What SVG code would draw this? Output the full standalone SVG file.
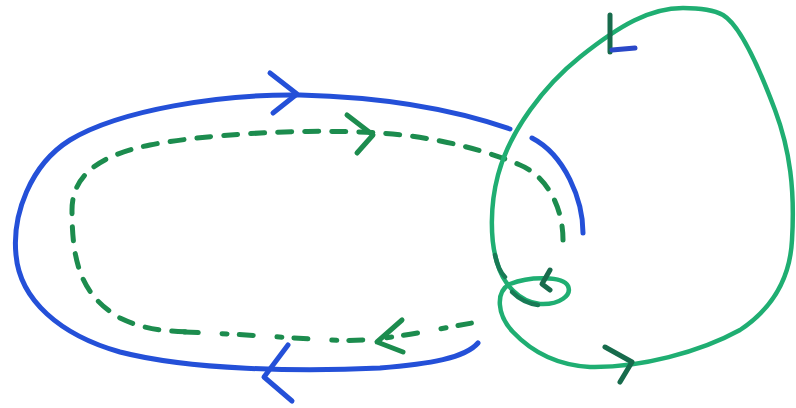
<svg xmlns="http://www.w3.org/2000/svg" width="796" height="408" viewBox="0 0 796 408">
<style>
.blue{fill:none;stroke:#2450d8;stroke-width:5;stroke-linecap:round;stroke-linejoin:round}
.gsolid{fill:none;stroke:#1fae72;stroke-width:4.5;stroke-linecap:round;stroke-linejoin:round}
.gdash{fill:none;stroke:#1c8c4e;stroke-width:5;stroke-linecap:round;stroke-dasharray:14 13}
.gdash2{fill:none;stroke:#1c8c4e;stroke-width:5;stroke-linecap:round;stroke-dasharray:14 24 5 12}
.garrow{fill:none;stroke:#1c8c4e;stroke-width:5;stroke-linecap:round;stroke-linejoin:round}
.darrow{fill:none;stroke:#176b4c;stroke-width:5;stroke-linecap:round;stroke-linejoin:round}
.dark{fill:none;stroke:#187a55;stroke-width:4.5;stroke-linecap:round}
</style>
<rect width="796" height="408" fill="#ffffff"/>
<g id="blue-loop">
<path class="blue" d="M583,233 C583,200 565,155 532,138"/>
<path class="blue" d="M510,129 C450,108 380,97 300,95 C220,94 120,110 70,140 C30,165 12,215 16,255 C20,300 60,335 120,352 C190,370 300,372 380,368 C430,364 465,358 478,343"/>
<polyline class="blue" points="270,73 297,94 273,113"/>
<polyline class="blue" points="288,345 264,377 292,401"/>
</g>
<g id="green-dashed-loop">
<path class="gdash" d="M563,240 C563,205 545,175 520,165 C490,152 440,137 380,133 C300,128 200,135 150,145 C100,155 72,175 72,210 C72,260 80,295 120,318 C145,330 165,331 190,332"/>
<path class="gdash2" d="M184,332 C240,334 290,338 330,340 C380,343 430,330 472,323"/>
<polyline class="garrow" points="347,115 373,135 357,153"/>
<polyline class="garrow" points="402,320 377,342 403,352"/>
</g>
<g id="green-solid-loop">
<path class="gsolid" d="M683,8 C650,8 620,25 580,57 C545,85 510,130 498,175 C490,205 490,240 497,262 C503,285 520,302 540,304 C560,305 572,295 568,286 C563,276 530,276 510,284 C495,292 497,315 513,332 C530,350 555,365 590,367 C640,368 700,352 740,330 C770,310 790,280 792,240 C795,190 790,150 775,110 C760,70 740,25 723,15 C712,9 695,8 683,8 Z"/>
<path class="dark" d="M495,255 C497,265 500,272 505,277"/>
<path class="dark" d="M512,292 C520,300 530,304 538,305"/>
<polyline class="darrow" points="610,15 610,52"/>
<polyline fill="none" stroke="#2a48c8" stroke-width="5" stroke-linecap="round" points="612,50 635,48"/>
<polyline class="darrow" points="605,347 632,362 620,382"/>
<polyline class="darrow" points="550,270 542,284 550,290"/>
</g>
</svg>
